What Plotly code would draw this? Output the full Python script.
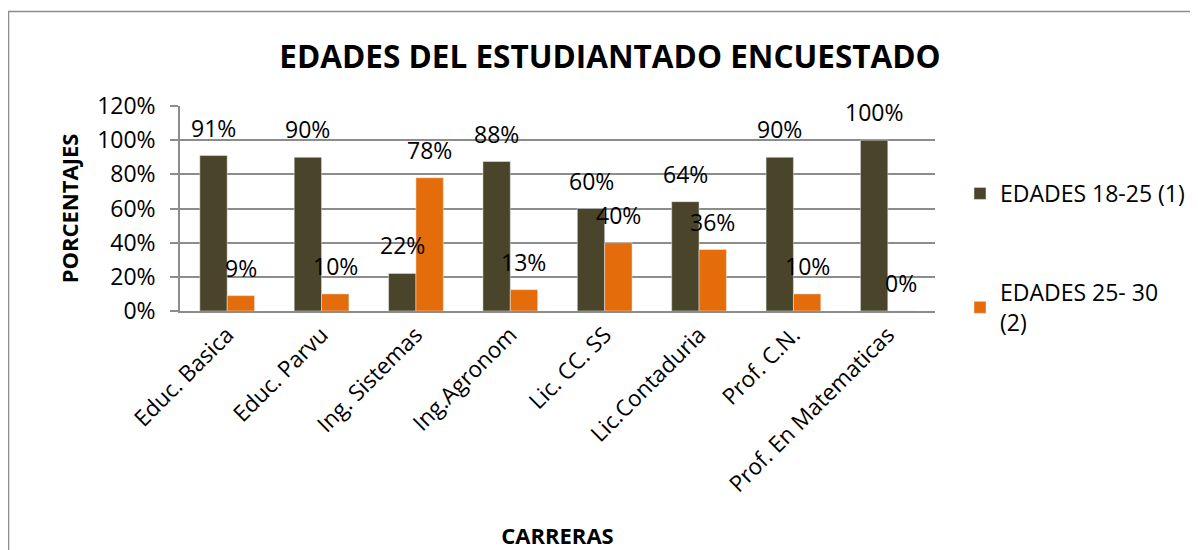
import plotly.graph_objects as go

categories = ["Educ. Basica", "Educ. Parvu", "Ing. Sistemas", "Ing.Agronom",
              "Lic. CC. SS", "Lic.Contaduria", "Prof. C.N.", "Prof. En Matematicas"]
serie1_name = "EDADES 18-25 (1)"
serie2_name = "EDADES 25- 30<br>(2)"
serie1 = [0.91, 0.90, 0.22, 0.875, 0.60, 0.64, 0.90, 1.00]
serie2 = [0.09, 0.10, 0.78, 0.125, 0.40, 0.36, 0.10, 0.00]
labels1 = ["91%", "90%", "22%", "88%", "60%", "64%", "90%", "100%"]
labels2 = ["9%", "10%", "78%", "13%", "40%", "36%", "10%", "0%"]
yticks = [0, 0.2, 0.4, 0.6, 0.8, 1.0, 1.2]
yticktext = ["0%", "20%", "40%", "60%", "80%", "100%", "120%"]

C1 = "#4A452A"
C2 = "#E46C0A"
GRID = "#8c8c8c"
FONT = "Open Sans"

OFF = 8  # page body margin
W, H = 1198 - OFF, 550 - OFF
L, T = 180 - OFF, 106 - OFF
R = W - (935 - OFF)
B = H - (311 - OFF)
pw, ph = W - L - R, H - T - B


def px2x(p):
    return (p - OFF - L) / pw


def px2y(p):
    return (H - B - (p - OFF)) / ph


fig = go.Figure()
fig.add_trace(go.Bar(x=categories, y=serie1, name=serie1_name, marker_color=C1,
                     legendgroup="a"))
fig.add_trace(go.Bar(x=categories, y=serie2, name=serie2_name, marker_color=C2,
                     legendgroup="b"))

bar_px = pw / len(categories) * 0.58 / 2
anns = []
for c, v, t in zip(categories, serie1, labels1):
    anns.append(dict(x=c, y=v, text=t, showarrow=False, xshift=-bar_px / 2, yshift=28,
                     font=dict(family=FONT, size=23, color="#000"), yanchor="middle"))
for c, v, t in zip(categories, serie2, labels2):
    anns.append(dict(x=c, y=v, text=t, showarrow=False, xshift=bar_px / 2, yshift=28,
                     font=dict(family=FONT, size=23, color="#000"), yanchor="middle"))

fig.update_layout(
    width=W, height=H,
    margin=dict(l=L, r=R, t=T, b=B, autoexpand=False),
    paper_bgcolor="white", plot_bgcolor="white",
    barmode="group", bargap=0.42, bargroupgap=0,
    font=dict(family=FONT, size=22, color="#000"),
    title=dict(text="<b>EDADES DEL ESTUDIANTADO ENCUESTADO</b>",
               x=(610 - OFF) / W, xanchor="center",
               y=1 - (57 - OFF) / H, yanchor="middle",
               font=dict(family=FONT, size=31.5, color="#000")),
    annotations=anns,
    legend=dict(x=px2x(960), xanchor="left", y=px2y(172), yanchor="top",
                font=dict(family=FONT, size=23, color="#000"), tracegroupgap=66,
                bgcolor="rgba(0,0,0,0)"),
    shapes=[dict(type="rect", xref="paper", yref="paper",
                 x0=px2x(8.5), x1=px2x(1230), y0=px2y(600), y1=px2y(11.5),
                 line=dict(color=GRID, width=1.5), layer="below")],
)
fig.update_xaxes(showline=True, linecolor=GRID, linewidth=1.5, ticks="",
                 tickangle=-45, tickfont=dict(family=FONT, size=22.5),
                 title=dict(text="<b>CARRERAS</b>", font=dict(family=FONT, size=22), standoff=35))
fig.update_yaxes(range=[0, 1.2], tickvals=yticks, ticktext=yticktext,
                 showgrid=True, gridcolor=GRID, gridwidth=1.5,
                 showline=True, linecolor=GRID, linewidth=1.5,
                 ticks="outside", ticklen=8, tickcolor=GRID, tickwidth=1.5,
                 tickfont=dict(family=FONT, size=23), ticklabelstandoff=10, zeroline=False,
                 title=dict(text="<b>PORCENTAJES</b>", font=dict(family=FONT, size=22), standoff=12))

fig.write_html("out.html")
